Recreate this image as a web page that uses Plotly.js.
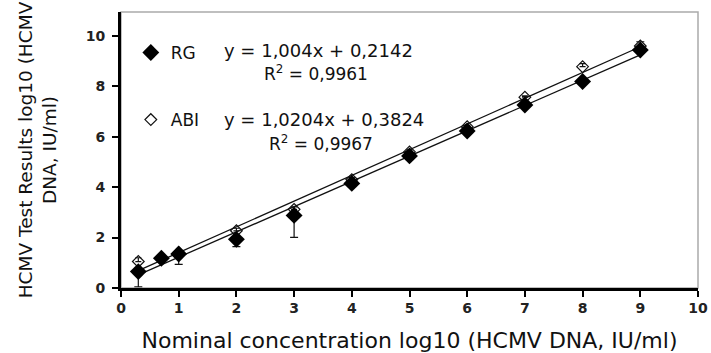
<!DOCTYPE html>
<html>
<head>
<meta charset="utf-8">
<script src="https://cdn.plot.ly/plotly-3.0.1.min.js"></script>
<style>html,body{margin:0;padding:0;background:#fff;}#chart{width:711px;height:353px;}</style>
</head>
<body>
<div id="chart"></div>
<script>
// Data
var xRG = [0.3, 0.7, 1, 2, 3, 4, 5, 6, 7, 8, 9];
var yRG = [0.65, 1.18, 1.35, 1.93, 2.88, 4.15, 5.24, 6.23, 7.26, 8.19, 9.44];
var errPlusRG = [0, 0, 0, 0, 0, 0, 0, 0, 0, 0, 0.33];
var errMinusRG = [0.6, 0, 0.41, 0.29, 0.87, 0, 0.1, 0, 0, 0, 0];

var xABI = [0.3, 1, 2, 3, 4, 5, 6, 7, 8, 9];
var yABI = [1.05, 1.4, 2.27, 3.12, 4.3, 5.4, 6.4, 7.57, 8.78, 9.6];
var errPlusABI = [0.15, 0, 0.1, 0.1, 0.08, 0.08, 0.05, 0.05, 0.12, 0];
var errMinusABI = [0, 0, 0, 0, 0, 0, 0, 0, 0, 0];

var trendX = [0.3, 9];
var trendRG = [0.52, 9.25];
var trendABI = [0.69, 9.57];

var eqRG = "y = 1,004x + 0,2142";
var r2RG = "R<sup>2</sup> = 0,9961";
var eqABI = "y = 1,0204x + 0,3824";
var r2ABI = "R<sup>2</sup> = 0,9967";

var xTitle = "Nominal concentration log10 (HCMV DNA, IU/ml)";
var yTitle = "HCMV Test Results log10 (HCMV<br>DNA, IU/ml)";

var FONT = "DejaVu Sans, Liberation Sans, sans-serif";

var traces = [
  {x: trendX, y: trendRG, mode: "lines", line: {color: "#111", width: 1.3}, showlegend: false, hoverinfo: "skip"},
  {x: trendX, y: trendABI, mode: "lines", line: {color: "#111", width: 1.3}, showlegend: false, hoverinfo: "skip"},
  {x: xABI, y: yABI, mode: "markers", name: "ABI", legendgroup: "b", legendrank: 2,
   marker: {symbol: "diamond-open", size: 9, color: "#111", line: {width: 1.2}},
   error_y: {type: "data", symmetric: false, array: errPlusABI, arrayminus: errMinusABI, color: "#111", thickness: 1.2, width: 3}},
  {x: xRG, y: yRG, mode: "markers", name: "RG", legendgroup: "a", legendrank: 1,
   marker: {symbol: "diamond", size: 13, color: "#000"},
   error_y: {type: "data", symmetric: false, array: errPlusRG, arrayminus: errMinusRG, color: "#111", thickness: 1.2, width: 4}}
];

var layout = {
  width: 711, height: 353,
  margin: {l: 121, r: 13, t: 12, b: 65},
  paper_bgcolor: "#fff", plot_bgcolor: "#fff",
  font: {family: FONT, color: "#111"},
  showlegend: true,
  legend: {x: 0.017, y: 0.917, xanchor: "left", yanchor: "top", traceorder: "grouped", tracegroupgap: 42,
           font: {family: FONT, size: 17, color: "#111"}, bgcolor: "rgba(0,0,0,0)", itemwidth: 30},
  xaxis: {range: [0, 10], tickvals: [0,1,2,3,4,5,6,7,8,9,10], showgrid: false, zeroline: false,
          showline: true, linecolor: "#000", linewidth: 2.5, ticks: "outside", ticklen: 6, tickwidth: 2, tickcolor: "#000",
          tickfont: {family: FONT, size: 14, color: "#222", weight: "bold"},
          title: {text: xTitle, font: {family: FONT, size: 22, color: "#111"}, standoff: 19}},
  yaxis: {range: [0, 10.95], tickvals: [0,2,4,6,8,10], showgrid: false, zeroline: false,
          showline: true, linecolor: "#000", linewidth: 3, ticks: "outside", ticklen: 6, tickwidth: 2, tickcolor: "#000",
          ticklabelstandoff: 4,
          tickfont: {family: FONT, size: 14, color: "#222", weight: "bold"},
          title: {text: yTitle, font: {family: FONT, size: 18.5, color: "#111"}, standoff: 25}},
  shapes: [{type: "rect", xref: "paper", yref: "paper", x0: 0, x1: 1, y0: 0, y1: 1, line: {color: "#aaa", width: 1.5}, layer: "below"}],
  annotations: [
    {xref: "paper", yref: "paper", x: 0.175, y: 0.859, xanchor: "left", yanchor: "middle", text: eqRG, showarrow: false, font: {family: FONT, size: 18, color: "#111"}},
    {xref: "paper", yref: "paper", x: 0.244, y: 0.78, xanchor: "left", yanchor: "middle", text: r2RG, showarrow: false, font: {family: FONT, size: 17, color: "#111"}},
    {xref: "paper", yref: "paper", x: 0.175, y: 0.609, xanchor: "left", yanchor: "middle", text: eqABI, showarrow: false, font: {family: FONT, size: 18, color: "#111"}},
    {xref: "paper", yref: "paper", x: 0.253, y: 0.527, xanchor: "left", yanchor: "middle", text: r2ABI, showarrow: false, font: {family: FONT, size: 17, color: "#111"}}
  ]
};

Plotly.newPlot("chart", traces, layout, {displayModeBar: false, staticPlot: true});
</script>
</body>
</html>
